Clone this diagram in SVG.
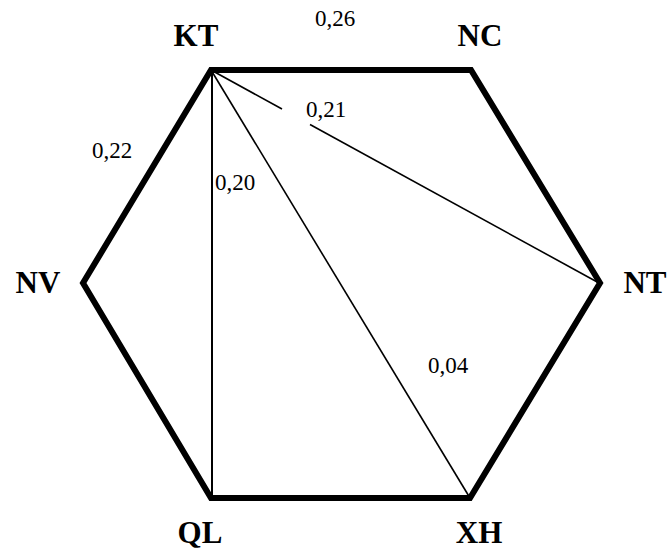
<svg xmlns="http://www.w3.org/2000/svg" width="670" height="550" viewBox="0 0 670 550">
<style>
.lbl{font-family:"Liberation Serif","Times New Roman",serif;font-weight:bold;font-size:31px;fill:#000}
.num{font-family:"Liberation Serif","Times New Roman",serif;font-size:23px;fill:#000}
.edge{stroke:#000;stroke-width:6;fill:none;stroke-linejoin:miter}
.thin{stroke:#000;stroke-width:1.6;fill:none}
</style>
<rect width="670" height="550" fill="#fff"/>
<g id="connectors">
<polygon class="edge" points="211,70 471,70 600,283 470,498 211,498 83,283"/>
<line class="thin" x1="212" y1="70" x2="212" y2="498" style="stroke-width:2"/>
<line class="thin" x1="211" y1="70" x2="470" y2="498"/>
<line class="thin" x1="211" y1="70" x2="282" y2="109"/>
<line class="thin" x1="310" y1="124.5" x2="599" y2="283"/>
</g>
<g id="KT"><text class="lbl" x="196" y="46" text-anchor="middle">KT</text></g>
<g id="NC"><text class="lbl" x="480" y="46" text-anchor="middle">NC</text></g>
<g id="NV"><text class="lbl" x="38" y="293" text-anchor="middle">NV</text></g>
<g id="NT"><text class="lbl" x="645" y="293" text-anchor="middle">NT</text></g>
<g id="QL"><text class="lbl" x="200" y="543" text-anchor="middle">QL</text></g>
<g id="XH"><text class="lbl" x="479" y="543" text-anchor="middle">XH</text></g>
<g id="weights">
<text class="num" x="315" y="26">0,26</text>
<text class="num" x="92" y="158">0,22</text>
<text class="num" x="215" y="190">0,20</text>
<text class="num" x="306" y="117">0,21</text>
<text class="num" x="428" y="373">0,04</text>
</g>
</svg>
